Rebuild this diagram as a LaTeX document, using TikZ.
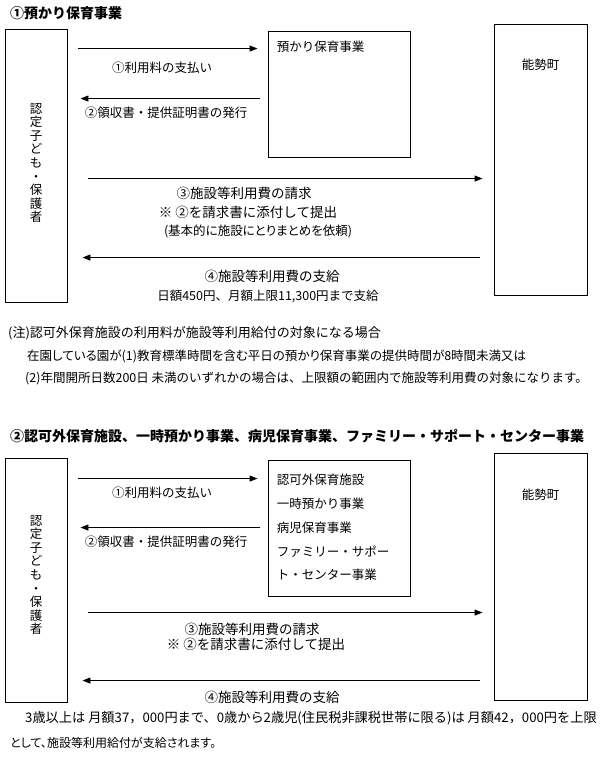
\documentclass[tikz,border=0pt]{standalone}
\usepackage{fontspec}
\setmainfont{Noto Sans CJK JP}
\newfontfamily\propjp{Noto Sans CJK JP}[CharacterWidth=AlternateProportional]
\usetikzlibrary{arrows.meta,positioning}
\tikzset{
  box/.style={draw, line width=0.9pt, inner sep=0pt},
  flow/.style={line width=0.9pt, -{Triangle[length=8pt,width=6pt]}},
  txt/.style={inner sep=0pt, font=\fontsize{12.5}{14}\selectfont},
  big/.style={inner sep=0pt, font=\fontsize{13.5}{15}\selectfont},
  prop/.style={inner sep=0pt, font=\propjp\fontsize{12.5}{14}\selectfont},
  head/.style={inner sep=0pt, anchor=west, font=\fontsize{14}{16}\selectfont\bfseries},
  tate/.style={inner sep=0pt, align=center, font=\fontsize{12.5}{13.6}\selectfont},
}

\begin{document}
\begin{tikzpicture}[x=1pt,y=1pt]
    \useasboundingbox (0,0) rectangle (615,-762);

    % --- (1) Azukari hoiku ---
    \node[head] (titleA) at (10,-13) {①預かり保育事業};
    \node[box, minimum width=62pt, minimum height=273pt] (kidA) at (36,-165.5) {};
    \node[tate] (kidAname) at ([yshift=2.5]kidA.center) {認\\定\\子\\ど\\も\\・\\保\\護\\者};
    \node[box, minimum width=142pt, minimum height=126pt] (careA) at (339,-94) {};
    \node[txt, anchor=west] (careAname) at ([shift={(9,-16)}]careA.north west) {預かり保育事業};
    \node[box, minimum width=93pt, minimum height=271pt] (townA) at (540.5,-159.5) {};
    \node[txt] (townAname) at ([yshift=-41]townA.north) {能勢町};

    % payment and receipt
    \draw[flow] ([shift={(11,-20)}]kidA.north east) -- ([shift={(-10,-18)}]careA.north west);
    \node[txt] (payA) at (162,-68) {①利用料の支払い};
    \draw[flow] ([shift={(-8,-68)}]careA.north west) -- ([shift={(13,-70)}]kidA.north east);
    \node[txt] (receiptA) at (166,-113) {②領収書・提供証明書の発行};

    % claim and benefit
    \draw[flow] ([shift={(21,-150)}]kidA.north east) -- ([shift={(-11,-155)}]townA.north west);
    \node[big] (claimA) at (244,-193) {③施設等利用費の請求};
    \node[big] (attachA) at (248,-212) {※ ②を請求書に添付して提出};
    \node[prop] (askA) at (258,-231) {(基本的に施設にとりまとめを依頼)};
    \draw[flow] ([shift={(-14,-234)}]townA.north west) -- ([shift={(15,-229)}]kidA.north east);
    \node[big] (benefitA) at (272,-276) {④施設等利用費の支給};
    \node[txt] (limitA) at (268,-296) {日額450円、月額上限11,300円まで支給};

    % note
    \node[txt, anchor=west, font=\fontsize{13}{15}\selectfont] (noteA) at (8,-333) {(注)認可外保育施設の利用料が施設等利用給付の対象になる場合};
    \node[prop, anchor=west] (noteB) at (27,-356) {在園している園が(1)教育標準時間を含む平日の預かり保育事業の提供時間が8時間未満又は};
    \node[txt, anchor=west] (noteC) at (25,-378) {(2)年間開所日数200日 未満のいずれかの場合は、上限額の範囲内で施設等利用費の対象になります。};

    % --- (2) Ninkagai etc. ---
    \node[head] (titleB) at (10,-436) {②認可外保育施設、一時預かり事業、病児保育事業、ファミリー・サポート・センター事業};
    \node[box, minimum width=62pt, minimum height=244pt] (kidB) at (36,-580) {};
    \node[tate] (kidBname) at ([yshift=5]kidB.center) {認\\定\\子\\ど\\も\\・\\保\\護\\者};
    \node[box, minimum width=142pt, minimum height=136pt] (careB) at (339,-528) {};
    \node[txt, anchor=north west, align=left, font=\fontsize{12.5}{23.75}\selectfont]
        (careBname) at ([shift={(9,-14.5)}]careB.north west)
        {認可外保育施設\\一時預かり事業\\病児保育事業\\ファミリー・サポー\\ト・センター事業};
    \node[box, minimum width=93pt, minimum height=247pt] (townB) at (540.5,-576.5) {};
    \node[txt] (townBname) at ([yshift=-42]townB.north) {能勢町};

    \draw[flow] ([shift={(11,-21)}]kidB.north east) -- ([shift={(-10,-19)}]careB.north west);
    \node[txt] (payB) at (162,-493) {①利用料の支払い};
    \draw[flow] ([shift={(-8,-68)}]careB.north west) -- ([shift={(13,-70)}]kidB.north east);
    \node[txt] (receiptB) at (166,-542) {②領収書・提供証明書の発行};

    \draw[flow] ([shift={(21,-155)}]kidB.north east) -- ([shift={(-11,-160)}]townB.north west);
    \node[big] (claimB) at (252,-629) {③施設等利用費の請求};
    \node[big] (attachB) at (256,-644) {※ ②を請求書に添付して提出};
    \draw[flow] ([shift={(-14,-228)}]townB.north west) -- ([shift={(15,-223)}]kidB.north east);
    \node[big] (benefitB) at (272,-697) {④施設等利用費の支給};

    % amounts
    \node[txt, anchor=west, font=\fontsize{13.2}{15}\selectfont] (amountA) at (25,-718) {3歳以上は 月額37，000円まで、0歳から2歳児(住民税非課税世帯に限る)は 月額42，000円を上限};
    \node[prop, anchor=west, font=\propjp\fontsize{12}{14}\selectfont] (amountB) at (10,-743) {として、施設等利用給付が支給されます。};
\end{tikzpicture}
\end{document}
